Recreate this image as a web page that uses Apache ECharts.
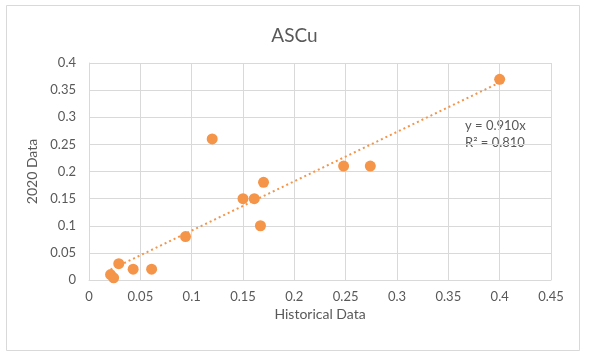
<!DOCTYPE html>
<html>
<head>
<meta charset="utf-8">
<script src="https://cdn.jsdelivr.net/npm/echarts@6/dist/echarts.min.js"></script>
<style>html,body{margin:0;padding:0;background:#fff;}#c{width:589px;height:356px;}</style>
</head>
<body>
<div id="c"></div>
<script>
var titleText = 'ASCu';
var xName = 'Historical Data';
var yName = '2020 Data';
var historical = [0.021, 0.024, 0.029, 0.043, 0.061, 0.094, 0.120, 0.150, 0.161, 0.170, 0.167, 0.248, 0.274, 0.400];
var data2020   = [0.010, 0.004, 0.030, 0.020, 0.020, 0.080, 0.260, 0.150, 0.150, 0.180, 0.100, 0.210, 0.210, 0.370];
var slope = 0.910;
var rSquared = 0.810;
var xTicks = [0, 0.05, 0.1, 0.15, 0.2, 0.25, 0.3, 0.35, 0.4, 0.45];
var yTicks = [0, 0.05, 0.1, 0.15, 0.2, 0.25, 0.3, 0.35, 0.4];

var pts = historical.map(function (x, i) { return [x, data2020[i]]; });
var xmin = Math.min.apply(null, historical), xmax = Math.max.apply(null, historical);
var trend = [[xmin, slope * xmin], [xmax, slope * xmax]];
var font = 'Lato, "Open Sans", sans-serif';
var gray = '#595959';
var orange = '#F4954A';

var chart = echarts.init(document.getElementById('c'));
chart.setOption({
  animation: false,
  backgroundColor: '#fff',
  title: {
    text: titleText, left: 'center', top: 21,
    textStyle: { fontFamily: font, fontSize: 19, fontWeight: 'normal', color: gray }
  },
  grid: { left: 89, right: 38, top: 63, bottom: 76, containLabel: false },
  xAxis: {
    type: 'value', min: xTicks[0], max: xTicks[xTicks.length - 1], interval: 0.05,
    name: xName, nameLocation: 'middle', nameGap: 25,
    nameTextStyle: { fontFamily: font, fontSize: 14, color: gray },
    axisLine: { show: true, lineStyle: { color: '#D9D9D9' } },
    axisTick: { show: false },
    axisLabel: { fontFamily: font, fontSize: 13, color: gray, margin: 10,
      formatter: function (v) { return String(+v.toFixed(2)); } },
    splitLine: { show: true, lineStyle: { color: '#D9D9D9' } }
  },
  yAxis: {
    type: 'value', min: yTicks[0], max: yTicks[yTicks.length - 1], interval: 0.05,
    name: yName, nameLocation: 'middle', nameGap: 43, nameRotate: 90,
    nameTextStyle: { fontFamily: font, fontSize: 14, color: gray },
    axisLine: { show: true, lineStyle: { color: '#D9D9D9' } },
    axisTick: { show: false },
    axisLabel: { fontFamily: font, fontSize: 13, color: gray, margin: 13,
      formatter: function (v) { return String(+v.toFixed(2)); } },
    splitLine: { show: true, lineStyle: { color: '#D9D9D9' } }
  },
  series: [
    {
      type: 'line', data: trend, symbol: 'none', silent: true, z: 1,
      lineStyle: { color: orange, width: 2, type: [2, 3] }
    },
    {
      type: 'scatter', data: pts, symbolSize: 11, z: 3,
      itemStyle: { color: orange, opacity: 1 }
    }
  ],
  graphic: [
    { type: 'rect', shape: { x: 6.5, y: 5.5, width: 573, height: 345 },
      style: { fill: 'none', stroke: '#D9D9D9', lineWidth: 1 }, z: -10, silent: true },
    { type: 'text', left: 465, top: 117,
      style: { text: 'y = ' + slope.toFixed(3) + 'x\nR² = ' + rSquared.toFixed(3),
        font: '13px ' + font, fill: gray, lineHeight: 17 } }
  ]
});
</script>
</body>
</html>
